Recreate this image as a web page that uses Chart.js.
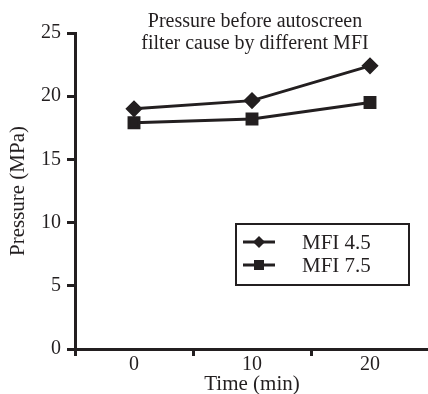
<!DOCTYPE html>
<html>
<head>
<meta charset="utf-8">
<script src="https://cdn.jsdelivr.net/npm/chart.js@4.4.1/dist/chart.umd.min.js"></script>
<style>
  html, body { margin: 0; padding: 0; background: #fff; overflow: hidden; }
  #wrap { width: 439px; height: 394px; position: relative; }
</style>
</head>
<body>
<div id="wrap"><canvas id="pressureChart"></canvas></div>
<script>
// data
const timeLabels = ['0', '10', '20'];
const mfi45 = [19.0, 19.65, 22.4];
const mfi75 = [17.9, 18.2, 19.5];
const yTicks = [0, 5, 10, 15, 20, 25];

const ink = '#231f20';
const serif = '"Liberation Serif", "Times New Roman", serif';

// titel + legenda di dalam area plot
const insidePlugin = {
  id: 'inside',
  afterDraw(chart) {
    const c = chart.ctx;
    c.save();
    c.fillStyle = ink;
    c.font = '20px ' + serif;
    c.textAlign = 'center';
    c.textBaseline = 'middle';
    c.fillText('Pressure before autoscreen', 255, 22);
    c.fillText('filter cause by different MFI', 255, 44);

    // kotak legenda
    c.strokeStyle = ink;
    c.lineWidth = 2;
    c.strokeRect(236, 224, 173, 61);
    const rows = [
      { y: 242, text: 'MFI 4.5', ds: 0 },
      { y: 265, text: 'MFI 7.5', ds: 1 }
    ];
    rows.forEach(r => {
      c.lineWidth = 3;
      c.beginPath();
      c.moveTo(243, r.y);
      c.lineTo(275, r.y);
      c.stroke();
      c.fillStyle = ink;
      if (r.ds === 0) {
        c.beginPath();
        c.moveTo(259, r.y - 6);
        c.lineTo(265, r.y);
        c.lineTo(259, r.y + 6);
        c.lineTo(253, r.y);
        c.closePath();
        c.fill();
      } else {
        c.fillRect(254, r.y - 5, 10, 10);
      }
      c.font = '21px ' + serif;
      c.textAlign = 'left';
      c.fillText(r.text, 302, r.y + 1);
    });
    c.restore();
  }
};

new Chart(document.getElementById('pressureChart').getContext('2d'), {
  type: 'line',
  data: {
    labels: timeLabels,
    datasets: [
      {
        label: 'MFI 4.5',
        data: mfi45,
        borderColor: ink,
        backgroundColor: ink,
        borderWidth: 3,
        pointStyle: 'rectRot',
        pointRadius: 6.5,
        tension: 0
      },
      {
        label: 'MFI 7.5',
        data: mfi75,
        borderColor: ink,
        backgroundColor: ink,
        borderWidth: 3,
        pointStyle: 'rect',
        pointRadius: 7,
        tension: 0
      }
    ]
  },
  options: {
    responsive: true,
    maintainAspectRatio: false,
    animation: false,
    layout: { padding: { top: 33, right: 3, left: 0, bottom: 0 } },
    plugins: {
      legend: { display: false },
      title: { display: false },
      tooltip: { enabled: false }
    },
    scales: {
      x: {
        type: 'category',
        offset: true,
        afterFit: s => { s.height = 45; },
        grid: {
          offset: true,
          drawOnChartArea: false,
          drawTicks: true,
          tickLength: 7,
          tickWidth: 3,
          tickColor: ink
        },
        border: { color: ink, width: 3 },
        ticks: { color: ink, font: { family: serif, size: 20 }, padding: -3, maxRotation: 0 },
        title: {
          display: true,
          text: 'Time (min)',
          color: ink,
          font: { family: serif, size: 21 },
          padding: { top: 0, bottom: -3 }
        }
      },
      y: {
        min: 0,
        max: 25,
        afterFit: s => { s.width = 75; },
        afterBuildTicks: s => { s.ticks = yTicks.map(v => ({ value: v })); },
        grid: {
          drawOnChartArea: false,
          drawTicks: true,
          tickLength: 8,
          tickWidth: 3,
          tickColor: ink
        },
        border: { color: ink, width: 3 },
        ticks: { color: ink, font: { family: serif, size: 20 }, padding: 6 },
        title: {
          display: true,
          text: 'Pressure (MPa)',
          color: ink,
          font: { family: serif, size: 21 },
          padding: { top: 6, bottom: 0 }
        }
      }
    }
  },
  plugins: [insidePlugin]
});
</script>
</body>
</html>
